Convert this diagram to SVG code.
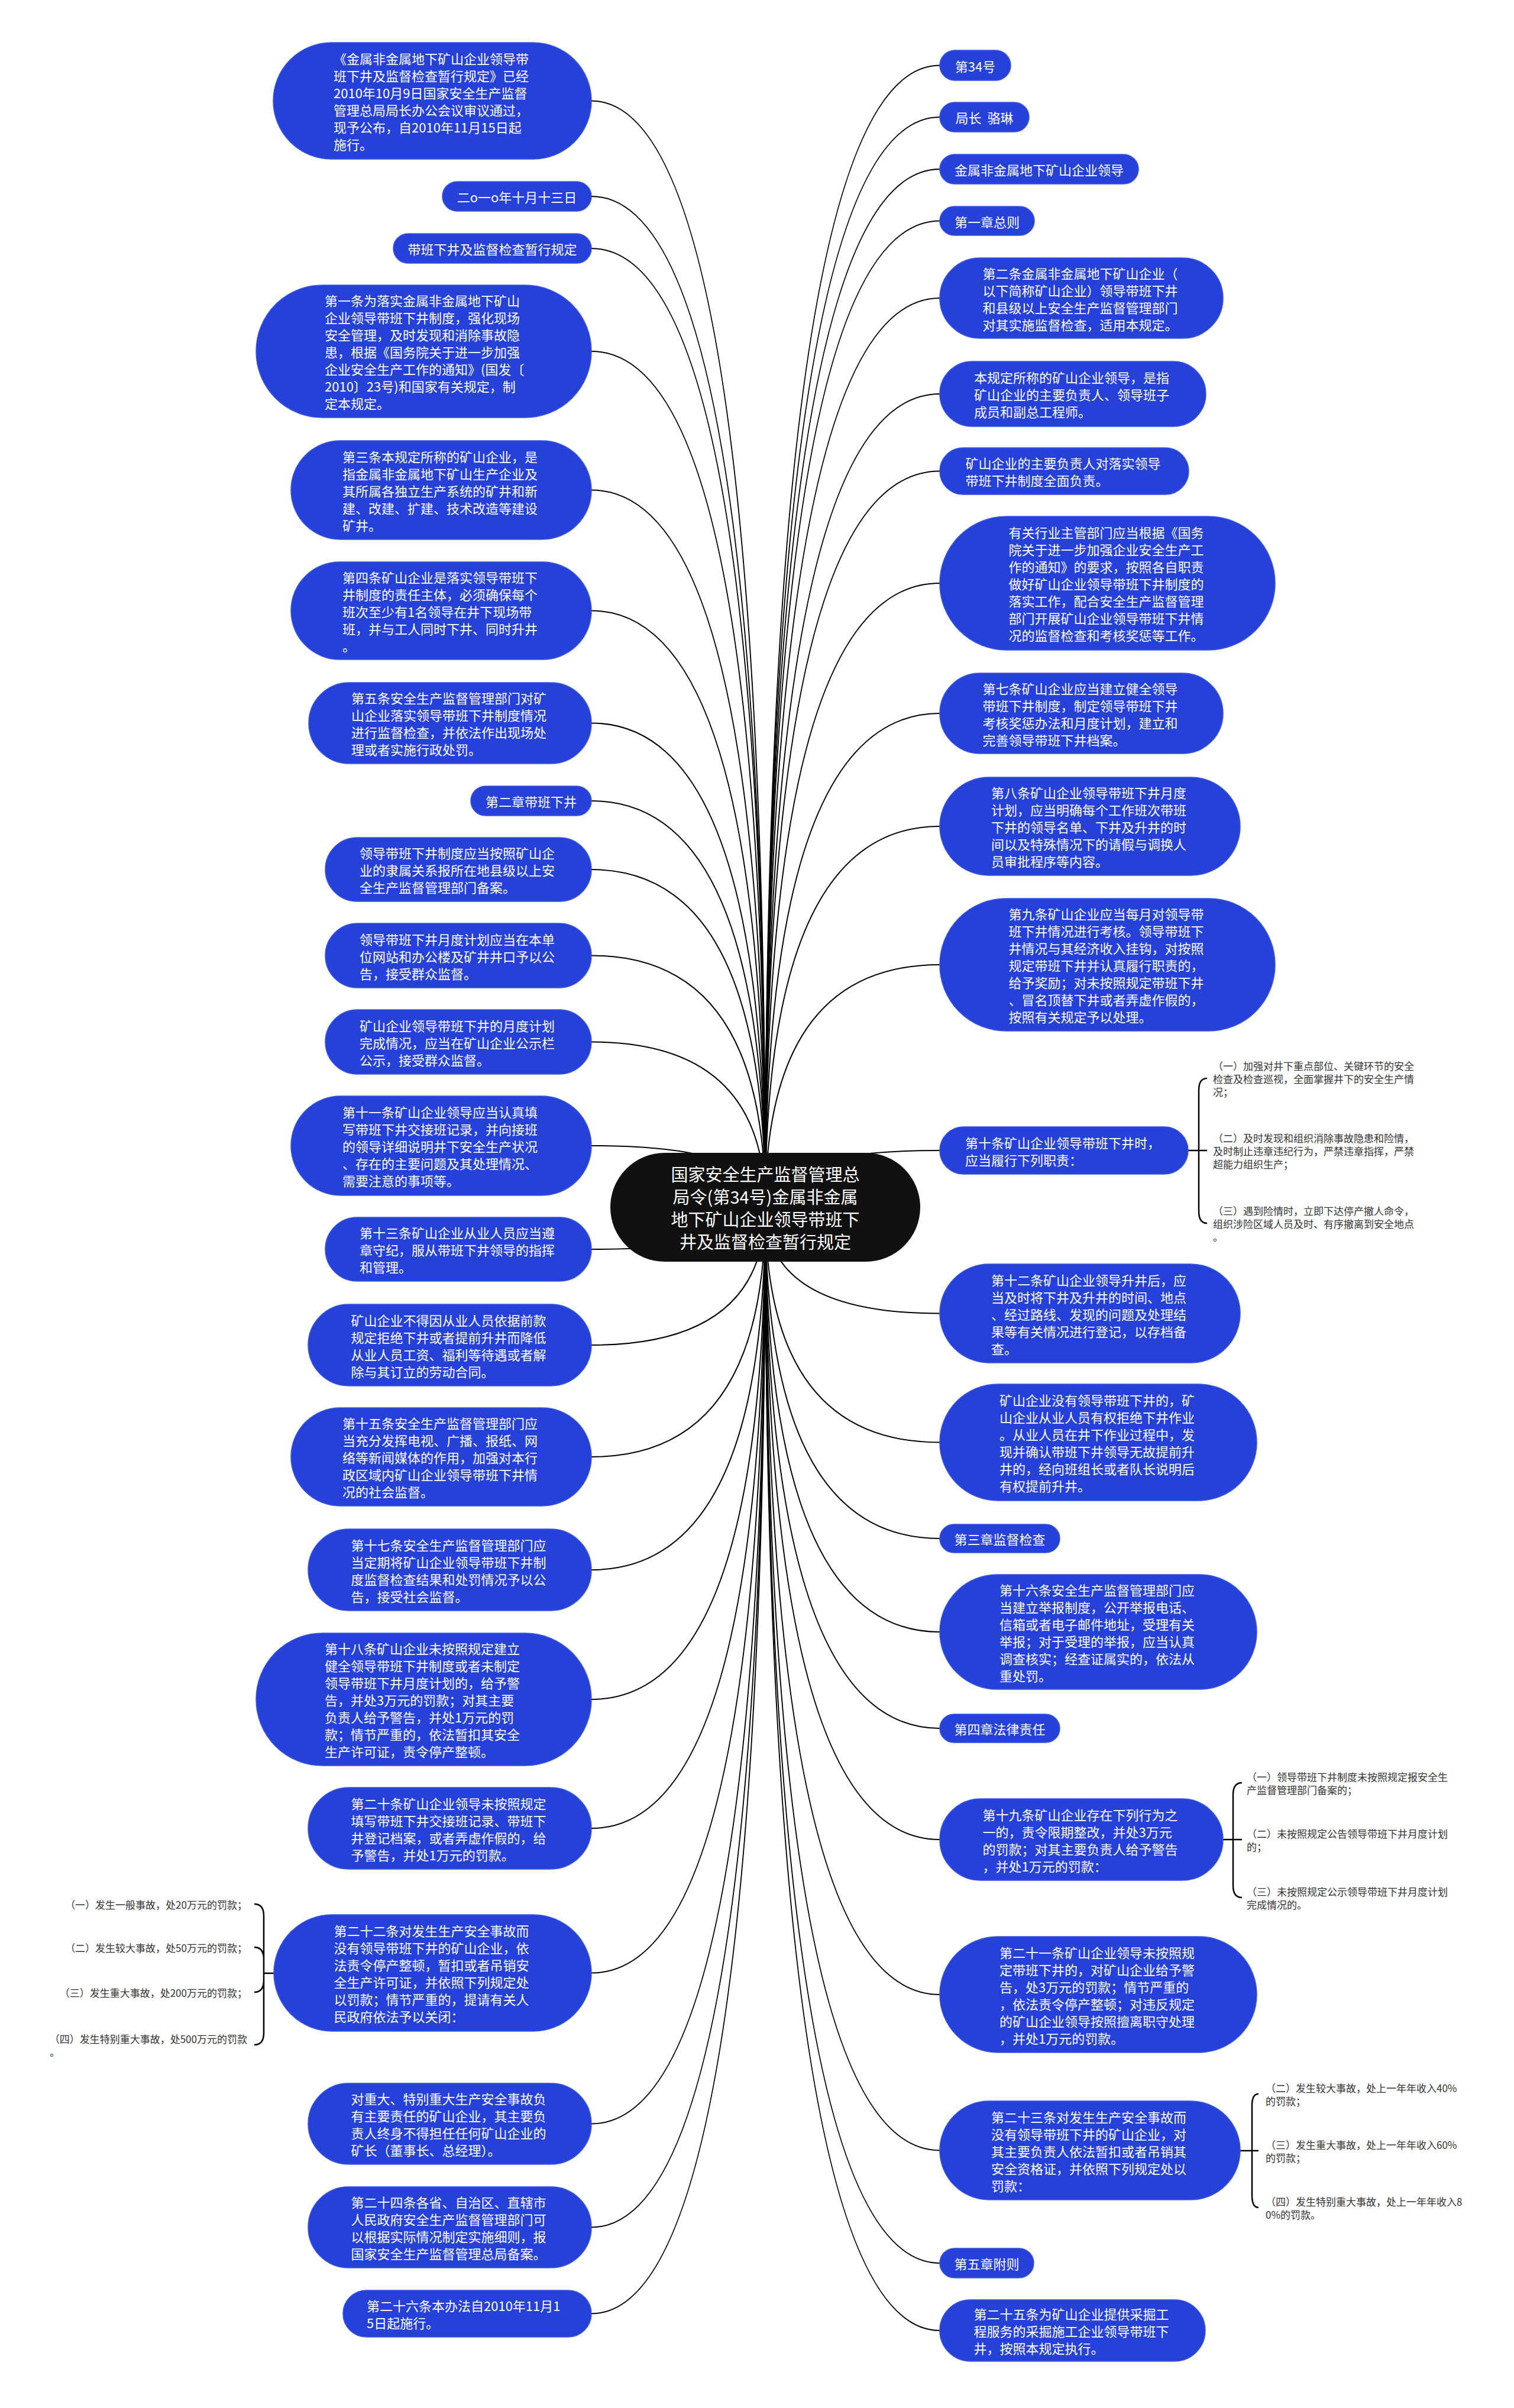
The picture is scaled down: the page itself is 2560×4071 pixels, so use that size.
<svg xmlns="http://www.w3.org/2000/svg" width="2560" height="4071" viewBox="0 0 2560 4071">
<style>
text{font-family:"Noto Sans CJK SC","Microsoft YaHei","Liberation Sans",sans-serif;dominant-baseline:central}
.node rect{fill:#2641d8;stroke:#3a55e2;stroke-width:1.5}
.node text{fill:#ffffff;font-size:22px}
.node text.c{text-anchor:middle}
#center rect{fill:#111111;stroke:none}
#center text{font-size:29px;text-anchor:middle}
.links path{fill:none;stroke:#000;stroke-width:2}
.brk path{fill:none;stroke:#000;stroke-width:2.5}
.item{fill:#333333;font-size:17px}
.item.e{text-anchor:end}
</style>
<rect width="2560" height="4071" fill="#ffffff"/>
<g class="links" id="connectors">
<path d="M1294 2041Q1294 170.5 1000 170.5"/>
<path d="M1294 2041Q1294 332 1000 332"/>
<path d="M1294 2041Q1294 420 1000 420"/>
<path d="M1294 2041Q1294 594 1000 594"/>
<path d="M1294 2041Q1294 828.5 1000 828.5"/>
<path d="M1294 2041Q1294 1032.5 1000 1032.5"/>
<path d="M1294 2041Q1294 1222.5 1000 1222.5"/>
<path d="M1294 2041Q1294 1354 1000 1354"/>
<path d="M1294 2041Q1294 1470 1000 1470"/>
<path d="M1294 2041Q1294 1615.5 1000 1615.5"/>
<path d="M1294 2041Q1294 1761.5 1000 1761.5"/>
<path d="M1294 2041Q1294 1937 1000 1937"/>
<path d="M1294 2041Q1294 2112 1000 2112"/>
<path d="M1294 2041Q1294 2274 1000 2274"/>
<path d="M1294 2041Q1294 2463 1000 2463"/>
<path d="M1294 2041Q1294 2654 1000 2654"/>
<path d="M1294 2041Q1294 2873 1000 2873"/>
<path d="M1294 2041Q1294 3091 1000 3091"/>
<path d="M1294 2041Q1294 3335.5 1000 3335.5"/>
<path d="M1294 2041Q1294 3590.5 1000 3590.5"/>
<path d="M1294 2041Q1294 3765.5 1000 3765.5"/>
<path d="M1294 2041Q1294 3911.5 1000 3911.5"/>
<path d="M1294 2041Q1294 110.5 1589 110.5"/>
<path d="M1294 2041Q1294 198 1589 198"/>
<path d="M1294 2041Q1294 286 1589 286"/>
<path d="M1294 2041Q1294 373.5 1589 373.5"/>
<path d="M1294 2041Q1294 504 1589 504"/>
<path d="M1294 2041Q1294 666 1589 666"/>
<path d="M1294 2041Q1294 796.5 1589 796.5"/>
<path d="M1294 2041Q1294 986 1589 986"/>
<path d="M1294 2041Q1294 1206 1589 1206"/>
<path d="M1294 2041Q1294 1397 1589 1397"/>
<path d="M1294 2041Q1294 1631 1589 1631"/>
<path d="M1294 2041Q1294 1945 1589 1945"/>
<path d="M1294 2041Q1294 2220.5 1589 2220.5"/>
<path d="M1294 2041Q1294 2438.5 1589 2438.5"/>
<path d="M1294 2041Q1294 2601 1589 2601"/>
<path d="M1294 2041Q1294 2759 1589 2759"/>
<path d="M1294 2041Q1294 2922 1589 2922"/>
<path d="M1294 2041Q1294 3110 1589 3110"/>
<path d="M1294 2041Q1294 3372 1589 3372"/>
<path d="M1294 2041Q1294 3635.5 1589 3635.5"/>
<path d="M1294 2041Q1294 3826 1589 3826"/>
<path d="M1294 2041Q1294 3940 1589 3940"/>
</g>
<g class="brk" id="brackets">
<path d="M2009 1945H2027M2027 1945V1843Q2027 1823 2041 1823M2027 1945H2041M2027 1945V2048Q2027 2068 2041 2068"/>
<path d="M2068 3110H2085M2085 3110V3034Q2085 3014 2100 3014M2085 3110H2100M2085 3110V3188Q2085 3208 2100 3208"/>
<path d="M2097 3636H2117M2117 3636V3560Q2117 3540 2128 3540M2117 3636H2128M2117 3636V3712Q2117 3732 2128 3732"/>
<path d="M463 3336H446M446 3336V3239Q446 3219 430 3219M446 3336V3312Q446 3292 430 3292M446 3336V3348Q446 3368 430 3368M446 3336V3437Q446 3457 430 3457"/>
</g>
<g id="center"><rect x="1032" y="1949" width="524" height="184" rx="92"/>
<text fill="#fff"><tspan x="1294" y="1984">国家安全生产监督管理总</tspan><tspan x="1294" y="2022">局令(第34号)金属非金属</tspan><tspan x="1294" y="2060">地下矿山企业领导带班下</tspan><tspan x="1294" y="2098">井及监督检查暂行规定</tspan></text></g>

<g id="L1" class="node"><rect x="462" y="72" width="538" height="197" rx="98.5"/><text><tspan x="564" y="98">《金属非金属地下矿山企业领导带</tspan><tspan x="564" y="127">班下井及监督检查暂行规定》已经</tspan><tspan x="564" y="156">2010年10月9日国家安全生产监督</tspan><tspan x="564" y="185">管理总局局长办公会议审议通过，</tspan><tspan x="564" y="214">现予公布，自2010年11月15日起</tspan><tspan x="564" y="243">施行。</tspan></text></g>
<g id="L2" class="node"><rect x="748" y="307" width="252" height="50" rx="25"/><text class="c" x="874" y="332">二o一o年十月十三日</text></g>
<g id="L3" class="node"><rect x="665" y="395" width="335" height="50" rx="25"/><text class="c" x="832.5" y="420">带班下井及监督检查暂行规定</text></g>
<g id="L4" class="node"><rect x="433" y="482" width="567" height="224" rx="112"/><text><tspan x="549" y="507">第一条为落实金属非金属地下矿山</tspan><tspan x="549" y="536">企业领导带班下井制度，强化现场</tspan><tspan x="549" y="565">安全管理，及时发现和消除事故隐</tspan><tspan x="549" y="594">患，根据《国务院关于进一步加强</tspan><tspan x="549" y="623">企业安全生产工作的通知》(国发〔</tspan><tspan x="549" y="652">2010〕23号)和国家有关规定，制</tspan><tspan x="549" y="681">定本规定。</tspan></text></g>
<g id="L5" class="node"><rect x="492" y="745" width="508" height="167" rx="83.5"/><text><tspan x="579" y="770.5">第三条本规定所称的矿山企业，是</tspan><tspan x="579" y="799.5">指金属非金属地下矿山生产企业及</tspan><tspan x="579" y="828.5">其所属各独立生产系统的矿井和新</tspan><tspan x="579" y="857.5">建、改建、扩建、技术改造等建设</tspan><tspan x="579" y="886.5">矿井。</tspan></text></g>
<g id="L6" class="node"><rect x="492" y="950" width="508" height="165" rx="82.5"/><text><tspan x="579" y="974.5">第四条矿山企业是落实领导带班下</tspan><tspan x="579" y="1003.5">井制度的责任主体，必须确保每个</tspan><tspan x="579" y="1032.5">班次至少有1名领导在井下现场带</tspan><tspan x="579" y="1061.5">班，并与工人同时下井、同时升井</tspan><tspan x="579" y="1090.5">。</tspan></text></g>
<g id="L7" class="node"><rect x="522" y="1154" width="478" height="137" rx="68.5"/><text><tspan x="594" y="1179">第五条安全生产监督管理部门对矿</tspan><tspan x="594" y="1208">山企业落实领导带班下井制度情况</tspan><tspan x="594" y="1237">进行监督检查，并依法作出现场处</tspan><tspan x="594" y="1266">理或者实施行政处罚。</tspan></text></g>
<g id="L8" class="node"><rect x="796" y="1329" width="204" height="50" rx="25"/><text class="c" x="898" y="1354">第二章带班下井</text></g>
<g id="L9" class="node"><rect x="550" y="1416" width="450" height="108" rx="54"/><text><tspan x="608" y="1441">领导带班下井制度应当按照矿山企</tspan><tspan x="608" y="1470">业的隶属关系报所在地县级以上安</tspan><tspan x="608" y="1499">全生产监督管理部门备案。</tspan></text></g>
<g id="L10" class="node"><rect x="550" y="1561" width="450" height="109" rx="54.5"/><text><tspan x="608" y="1586.5">领导带班下井月度计划应当在本单</tspan><tspan x="608" y="1615.5">位网站和办公楼及矿井井口予以公</tspan><tspan x="608" y="1644.5">告，接受群众监督。</tspan></text></g>
<g id="L11" class="node"><rect x="550" y="1707" width="450" height="109" rx="54.5"/><text><tspan x="608" y="1732.5">矿山企业领导带班下井的月度计划</tspan><tspan x="608" y="1761.5">完成情况，应当在矿山企业公示栏</tspan><tspan x="608" y="1790.5">公示，接受群众监督。</tspan></text></g>
<g id="L12" class="node"><rect x="492" y="1853" width="508" height="168" rx="84"/><text><tspan x="579" y="1879">第十一条矿山企业领导应当认真填</tspan><tspan x="579" y="1908">写带班下井交接班记录，并向接班</tspan><tspan x="579" y="1937">的领导详细说明井下安全生产状况</tspan><tspan x="579" y="1966">、存在的主要问题及其处理情况、</tspan><tspan x="579" y="1995">需要注意的事项等。</tspan></text></g>
<g id="L13" class="node"><rect x="550" y="2058" width="450" height="108" rx="54"/><text><tspan x="608" y="2083">第十三条矿山企业从业人员应当遵</tspan><tspan x="608" y="2112">章守纪，服从带班下井领导的指挥</tspan><tspan x="608" y="2141">和管理。</tspan></text></g>
<g id="L14" class="node"><rect x="521" y="2205" width="479" height="138" rx="69"/><text><tspan x="593.5" y="2230.5">矿山企业不得因从业人员依据前款</tspan><tspan x="593.5" y="2259.5">规定拒绝下井或者提前升井而降低</tspan><tspan x="593.5" y="2288.5">从业人员工资、福利等待遇或者解</tspan><tspan x="593.5" y="2317.5">除与其订立的劳动合同。</tspan></text></g>
<g id="L15" class="node"><rect x="492" y="2380" width="508" height="166" rx="83"/><text><tspan x="579" y="2405">第十五条安全生产监督管理部门应</tspan><tspan x="579" y="2434">当充分发挥电视、广播、报纸、网</tspan><tspan x="579" y="2463">络等新闻媒体的作用，加强对本行</tspan><tspan x="579" y="2492">政区域内矿山企业领导带班下井情</tspan><tspan x="579" y="2521">况的社会监督。</tspan></text></g>
<g id="L16" class="node"><rect x="521" y="2585" width="479" height="138" rx="69"/><text><tspan x="593.5" y="2610.5">第十七条安全生产监督管理部门应</tspan><tspan x="593.5" y="2639.5">当定期将矿山企业领导带班下井制</tspan><tspan x="593.5" y="2668.5">度监督检查结果和处罚情况予以公</tspan><tspan x="593.5" y="2697.5">告，接受社会监督。</tspan></text></g>
<g id="L17" class="node"><rect x="433" y="2761" width="567" height="224" rx="112"/><text><tspan x="549" y="2786">第十八条矿山企业未按照规定建立</tspan><tspan x="549" y="2815">健全领导带班下井制度或者未制定</tspan><tspan x="549" y="2844">领导带班下井月度计划的，给予警</tspan><tspan x="549" y="2873">告，并处3万元的罚款；对其主要</tspan><tspan x="549" y="2902">负责人给予警告，并处1万元的罚</tspan><tspan x="549" y="2931">款；情节严重的，依法暂扣其安全</tspan><tspan x="549" y="2960">生产许可证，责令停产整顿。</tspan></text></g>
<g id="L18" class="node"><rect x="521" y="3022" width="479" height="138" rx="69"/><text><tspan x="593.5" y="3047.5">第二十条矿山企业领导未按照规定</tspan><tspan x="593.5" y="3076.5">填写带班下井交接班记录、带班下</tspan><tspan x="593.5" y="3105.5">井登记档案，或者弄虚作假的，给</tspan><tspan x="593.5" y="3134.5">予警告，并处1万元的罚款。</tspan></text></g>
<g id="L19" class="node"><rect x="463" y="3237" width="537" height="197" rx="98.5"/><text><tspan x="564.5" y="3263">第二十二条对发生生产安全事故而</tspan><tspan x="564.5" y="3292">没有领导带班下井的矿山企业，依</tspan><tspan x="564.5" y="3321">法责令停产整顿，暂扣或者吊销安</tspan><tspan x="564.5" y="3350">全生产许可证，并依照下列规定处</tspan><tspan x="564.5" y="3379">以罚款；情节严重的，提请有关人</tspan><tspan x="564.5" y="3408">民政府依法予以关闭：</tspan></text></g>
<g id="L20" class="node"><rect x="521" y="3522" width="479" height="137" rx="68.5"/><text><tspan x="593.5" y="3547">对重大、特别重大生产安全事故负</tspan><tspan x="593.5" y="3576">有主要责任的矿山企业，其主要负</tspan><tspan x="593.5" y="3605">责人终身不得担任任何矿山企业的</tspan><tspan x="593.5" y="3634">矿长（董事长、总经理）。</tspan></text></g>
<g id="L21" class="node"><rect x="521" y="3697" width="479" height="137" rx="68.5"/><text><tspan x="593.5" y="3722">第二十四条各省、自治区、直辖市</tspan><tspan x="593.5" y="3751">人民政府安全生产监督管理部门可</tspan><tspan x="593.5" y="3780">以根据实际情况制定实施细则，报</tspan><tspan x="593.5" y="3809">国家安全生产监督管理总局备案。</tspan></text></g>
<g id="L22" class="node"><rect x="580" y="3872" width="420" height="79" rx="39.5"/><text><tspan x="620" y="3897">第二十六条本办法自2010年11月1</tspan><tspan x="620" y="3926">5日起施行。</tspan></text></g>

<g id="R1" class="node"><rect x="1589" y="85" width="120" height="51" rx="25.5"/><text class="c" x="1649" y="110.5">第34号</text></g>
<g id="R2" class="node"><rect x="1589" y="173" width="151" height="50" rx="25"/><text class="c" x="1664.5" y="198" xml:space="preserve">局长  骆琳</text></g>
<g id="R3" class="node"><rect x="1589" y="261" width="336" height="50" rx="25"/><text class="c" x="1757" y="286">金属非金属地下矿山企业领导</text></g>
<g id="R4" class="node"><rect x="1589" y="349" width="160" height="49" rx="24.5"/><text class="c" x="1669" y="373.5">第一章总则</text></g>
<g id="R5" class="node"><rect x="1589" y="436" width="479" height="136" rx="68"/><text><tspan x="1661.5" y="460.5">第二条金属非金属地下矿山企业（</tspan><tspan x="1661.5" y="489.5">以下简称矿山企业）领导带班下井</tspan><tspan x="1661.5" y="518.5">和县级以上安全生产监督管理部门</tspan><tspan x="1661.5" y="547.5">对其实施监督检查，适用本规定。</tspan></text></g>
<g id="R6" class="node"><rect x="1589" y="611" width="450" height="110" rx="55"/><text><tspan x="1647" y="637">本规定所称的矿山企业领导，是指</tspan><tspan x="1647" y="666">矿山企业的主要负责人、领导班子</tspan><tspan x="1647" y="695">成员和副总工程师。</tspan></text></g>
<g id="R7" class="node"><rect x="1589" y="757" width="421" height="79" rx="39.5"/><text><tspan x="1632.5" y="782">矿山企业的主要负责人对落实领导</tspan><tspan x="1632.5" y="811">带班下井制度全面负责。</tspan></text></g>
<g id="R8" class="node"><rect x="1589" y="873" width="567" height="226" rx="113"/><text><tspan x="1705.5" y="899">有关行业主管部门应当根据《国务</tspan><tspan x="1705.5" y="928">院关于进一步加强企业安全生产工</tspan><tspan x="1705.5" y="957">作的通知》的要求，按照各自职责</tspan><tspan x="1705.5" y="986">做好矿山企业领导带班下井制度的</tspan><tspan x="1705.5" y="1015">落实工作，配合安全生产监督管理</tspan><tspan x="1705.5" y="1044">部门开展矿山企业领导带班下井情</tspan><tspan x="1705.5" y="1073">况的监督检查和考核奖惩等工作。</tspan></text></g>
<g id="R9" class="node"><rect x="1589" y="1138" width="479" height="136" rx="68"/><text><tspan x="1661.5" y="1162.5">第七条矿山企业应当建立健全领导</tspan><tspan x="1661.5" y="1191.5">带班下井制度，制定领导带班下井</tspan><tspan x="1661.5" y="1220.5">考核奖惩办法和月度计划，建立和</tspan><tspan x="1661.5" y="1249.5">完善领导带班下井档案。</tspan></text></g>
<g id="R10" class="node"><rect x="1589" y="1314" width="508" height="166" rx="83"/><text><tspan x="1676" y="1339">第八条矿山企业领导带班下井月度</tspan><tspan x="1676" y="1368">计划，应当明确每个工作班次带班</tspan><tspan x="1676" y="1397">下井的领导名单、下井及升井的时</tspan><tspan x="1676" y="1426">间以及特殊情况下的请假与调换人</tspan><tspan x="1676" y="1455">员审批程序等内容。</tspan></text></g>
<g id="R11" class="node"><rect x="1589" y="1519" width="567" height="224" rx="112"/><text><tspan x="1705.5" y="1544">第九条矿山企业应当每月对领导带</tspan><tspan x="1705.5" y="1573">班下井情况进行考核。领导带班下</tspan><tspan x="1705.5" y="1602">井情况与其经济收入挂钩，对按照</tspan><tspan x="1705.5" y="1631">规定带班下井并认真履行职责的，</tspan><tspan x="1705.5" y="1660">给予奖励；对未按照规定带班下井</tspan><tspan x="1705.5" y="1689">、冒名顶替下井或者弄虚作假的，</tspan><tspan x="1705.5" y="1718">按照有关规定予以处理。</tspan></text></g>
<g id="R12" class="node"><rect x="1589" y="1905" width="420" height="80" rx="40"/><text><tspan x="1632" y="1930.5">第十条矿山企业领导带班下井时，</tspan><tspan x="1632" y="1959.5">应当履行下列职责：</tspan></text></g>
<g id="R12-items"><text class="item"><tspan x="2051" y="1801">（一）加强对井下重点部位、关键环节的安全</tspan><tspan x="2051" y="1823">检查及检查巡视，全面掌握井下的安全生产情</tspan><tspan x="2051" y="1845">况；</tspan></text>
<text class="item"><tspan x="2051" y="1923">（二）及时发现和组织消除事故隐患和险情，</tspan><tspan x="2051" y="1945">及时制止违章违纪行为，严禁违章指挥，严禁</tspan><tspan x="2051" y="1967">超能力组织生产；</tspan></text>
<text class="item"><tspan x="2051" y="2046">（三）遇到险情时，立即下达停产撤人命令，</tspan><tspan x="2051" y="2068">组织涉险区域人员及时、有序撤离到安全地点</tspan><tspan x="2051" y="2090">。</tspan></text></g>
<g id="R13" class="node"><rect x="1589" y="2137" width="508" height="167" rx="83.5"/><text><tspan x="1676" y="2162.5">第十二条矿山企业领导升井后，应</tspan><tspan x="1676" y="2191.5">当及时将下井及升井的时间、地点</tspan><tspan x="1676" y="2220.5">、经过路线、发现的问题及处理结</tspan><tspan x="1676" y="2249.5">果等有关情况进行登记，以存档备</tspan><tspan x="1676" y="2278.5">查。</tspan></text></g>
<g id="R14" class="node"><rect x="1589" y="2340" width="536" height="197" rx="98.5"/><text><tspan x="1690" y="2366">矿山企业没有领导带班下井的，矿</tspan><tspan x="1690" y="2395">山企业从业人员有权拒绝下井作业</tspan><tspan x="1690" y="2424">。从业人员在井下作业过程中，发</tspan><tspan x="1690" y="2453">现并确认带班下井领导无故提前升</tspan><tspan x="1690" y="2482">井的，经向班组长或者队长说明后</tspan><tspan x="1690" y="2511">有权提前升井。</tspan></text></g>
<g id="R15" class="node"><rect x="1589" y="2577" width="203" height="48" rx="24"/><text class="c" x="1690.5" y="2601">第三章监督检查</text></g>
<g id="R16" class="node"><rect x="1589" y="2662" width="536" height="194" rx="97"/><text><tspan x="1690" y="2686.5">第十六条安全生产监督管理部门应</tspan><tspan x="1690" y="2715.5">当建立举报制度，公开举报电话、</tspan><tspan x="1690" y="2744.5">信箱或者电子邮件地址，受理有关</tspan><tspan x="1690" y="2773.5">举报；对于受理的举报，应当认真</tspan><tspan x="1690" y="2802.5">调查核实；经查证属实的，依法从</tspan><tspan x="1690" y="2831.5">重处罚。</tspan></text></g>
<g id="R17" class="node"><rect x="1589" y="2898" width="203" height="48" rx="24"/><text class="c" x="1690.5" y="2922">第四章法律责任</text></g>
<g id="R18" class="node"><rect x="1589" y="3041" width="479" height="138" rx="69"/><text><tspan x="1661.5" y="3066.5">第十九条矿山企业存在下列行为之</tspan><tspan x="1661.5" y="3095.5">一的，责令限期整改，并处3万元</tspan><tspan x="1661.5" y="3124.5">的罚款；对其主要负责人给予警告</tspan><tspan x="1661.5" y="3153.5">，并处1万元的罚款：</tspan></text></g>
<g id="R18-items"><text class="item"><tspan x="2108" y="3003">（一）领导带班下井制度未按照规定报安全生</tspan><tspan x="2108" y="3025">产监督管理部门备案的；</tspan></text>
<text class="item"><tspan x="2108" y="3099">（二）未按照规定公告领导带班下井月度计划</tspan><tspan x="2108" y="3121">的；</tspan></text>
<text class="item"><tspan x="2108" y="3197">（三）未按照规定公示领导带班下井月度计划</tspan><tspan x="2108" y="3219">完成情况的。</tspan></text></g>
<g id="R19" class="node"><rect x="1589" y="3274" width="536" height="196" rx="98"/><text><tspan x="1690" y="3299.5">第二十一条矿山企业领导未按照规</tspan><tspan x="1690" y="3328.5">定带班下井的，对矿山企业给予警</tspan><tspan x="1690" y="3357.5">告，处3万元的罚款；情节严重的</tspan><tspan x="1690" y="3386.5">，依法责令停产整顿；对违反规定</tspan><tspan x="1690" y="3415.5">的矿山企业领导按照擅离职守处理</tspan><tspan x="1690" y="3444.5">，并处1万元的罚款。</tspan></text></g>
<g id="R20" class="node"><rect x="1589" y="3552" width="508" height="167" rx="83.5"/><text><tspan x="1676" y="3577.5">第二十三条对发生生产安全事故而</tspan><tspan x="1676" y="3606.5">没有领导带班下井的矿山企业，对</tspan><tspan x="1676" y="3635.5">其主要负责人依法暂扣或者吊销其</tspan><tspan x="1676" y="3664.5">安全资格证，并依照下列规定处以</tspan><tspan x="1676" y="3693.5">罚款：</tspan></text></g>
<g id="R20-items"><text class="item"><tspan x="2140" y="3529">（二）发生较大事故，处上一年年收入40%</tspan><tspan x="2140" y="3551">的罚款；</tspan></text>
<text class="item"><tspan x="2140" y="3625">（三）发生重大事故，处上一年年收入60%</tspan><tspan x="2140" y="3647">的罚款；</tspan></text>
<text class="item"><tspan x="2140" y="3721">（四）发生特别重大事故，处上一年年收入8</tspan><tspan x="2140" y="3743">0%的罚款。</tspan></text></g>
<g id="R21" class="node"><rect x="1589" y="3801" width="159" height="50" rx="25"/><text class="c" x="1668.5" y="3826">第五章附则</text></g>
<g id="R22" class="node"><rect x="1589" y="3888" width="449" height="104" rx="52"/><text><tspan x="1646.5" y="3911">第二十五条为矿山企业提供采掘工</tspan><tspan x="1646.5" y="3940">程服务的采掘施工企业领导带班下</tspan><tspan x="1646.5" y="3969">井，按照本规定执行。</tspan></text></g>
<g id="L19-items">
<text class="item e" x="418" y="3219">（一）发生一般事故，处20万元的罚款；</text>
<text class="item e" x="418" y="3292">（二）发生较大事故，处50万元的罚款；</text>
<text class="item e" x="418" y="3368">（三）发生重大事故，处200万元的罚款；</text>
<text class="item"><tspan class="e" text-anchor="end" x="418" y="3446">（四）发生特别重大事故，处500万元的罚款</tspan><tspan x="84" y="3468">。</tspan></text>
</g>
</svg>
